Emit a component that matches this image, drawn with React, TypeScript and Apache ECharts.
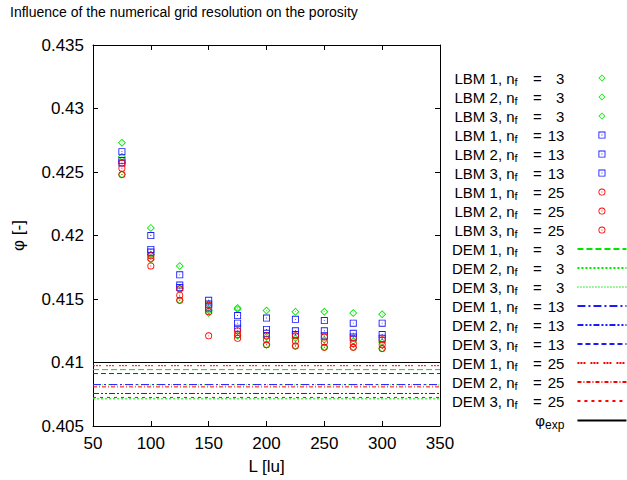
import React, { useEffect, useRef } from 'react';
import * as echarts from 'echarts';

const TITLE = 'Influence of the numerical grid resolution on the porosity';
const X_NAME = 'L [lu]';
const Y_NAME = 'φ [-]';
const X_MIN = 50;
const X_MAX = 350;
const X_STEP = 50;
const Y_MIN = 0.405;
const Y_MAX = 0.435;
const Y_STEP = 0.005;

const L_VALUES = [75, 100, 125, 150, 175, 200, 225, 250, 275, 300];

// LBM results, nf = 3
const LBM1_NF3 = [0.4273, 0.4206, 0.4176, 0.4146, 0.4143, 0.4141, 0.414, 0.414, 0.4139, 0.4138];
const LBM2_NF3 = [0.4262, 0.4185, 0.4158, 0.4141, 0.4142, 0.412, 0.4119, 0.4118, 0.4117, 0.4116];
const LBM3_NF3 = [0.4248, 0.4181, 0.4149, 0.4139, 0.4121, 0.4114, 0.4113, 0.4112, 0.4112, 0.4111];
// LBM results, nf = 13
const LBM1_NF13 = [0.4266, 0.42, 0.4169, 0.4149, 0.4137, 0.4135, 0.4134, 0.4133, 0.4131, 0.4131];
const LBM2_NF13 = [0.4259, 0.4189, 0.4161, 0.4146, 0.4131, 0.4126, 0.4125, 0.4125, 0.4123, 0.4122];
const LBM3_NF13 = [0.4257, 0.4187, 0.4159, 0.4143, 0.4127, 0.4123, 0.4122, 0.4121, 0.412, 0.4119];
// LBM results, nf = 25
const LBM1_NF25 = [0.4257, 0.4184, 0.4158, 0.4145, 0.4125, 0.4121, 0.4121, 0.412, 0.4119, 0.4118];
const LBM2_NF25 = [0.4253, 0.4182, 0.4153, 0.414, 0.4122, 0.4118, 0.4117, 0.4116, 0.4115, 0.4114];
const LBM3_NF25 = [0.4248, 0.4176, 0.4149, 0.4121, 0.4119, 0.4114, 0.4113, 0.4112, 0.4112, 0.4111];

// DEM porosities (runs 1..3)
const DEM_NF3 = [0.40944, 0.40714, 0.40824];
const DEM_NF13 = [0.40826, 0.40756, 0.40913];
const DEM_NF25 = [0.40975, 0.40808, 0.40725];
const PHI_EXP = 0.41;

const NF_VALUES = [3, 13, 25];
const RUNS = [1, 2, 3];
const LBM_BY_NF = [
  [LBM1_NF3, LBM2_NF3, LBM3_NF3],
  [LBM1_NF13, LBM2_NF13, LBM3_NF13],
  [LBM1_NF25, LBM2_NF25, LBM3_NF25],
];
const DEM_BY_NF = [DEM_NF3, DEM_NF13, DEM_NF25];

const COLORS = ['#00e600', '#1a1aff', '#ff0000'];
const SYMBOLS = [
  'path://M8,0L16,8L8,16L0,8Z M8,2.4L2.4,8L8,13.6L13.6,8Z M7.2,7.2H8.8V8.8H7.2Z',
  'path://M0,0H16V16H0Z M2,2V14H14V2Z M7,7H9V9H7Z',
  'path://M8,0A8,8 0 1,1 8,16A8,8 0 1,1 8,0Z M8,2A6,6 0 1,0 8,14A6,6 0 1,0 8,2Z M7,7H9V9H7Z',
];
const SYMBOL_SIZES = [8, 7, 7];
const DEM_DASHES = [
  [[6, 3], [2, 2], [1, 2]],
  [[8, 3, 2, 3], [6, 2, 2, 2, 2, 2], [5, 3]],
  [[2, 1, 2, 1, 2, 5], [4, 2, 1, 2], [3, 4]],
];

const FONT = 'Liberation Sans, Arial, sans-serif';
const NBSP = '\u00a0';

export default function App() {
  const ref = useRef<HTMLDivElement>(null);

  useEffect(() => {
    if (!ref.current) return;
    const chart = echarts.init(ref.current, undefined, { renderer: 'svg' });

    const series: any[] = [];
    const legendData: any[] = [];

    NF_VALUES.forEach((nf, k) => {
      RUNS.forEach((run, r) => {
        const name = `LBM|${run}|${nf}`;
        legendData.push({ name });
        series.push({
          name,
          type: 'scatter',
          symbol: SYMBOLS[k],
          symbolSize: SYMBOL_SIZES[k],
          itemStyle: { color: COLORS[k], opacity: 1 },
          silent: true,
          data: L_VALUES.map((x, i) => [x, LBM_BY_NF[k][r][i]]),
        });
      });
    });

    NF_VALUES.forEach((nf, k) => {
      RUNS.forEach((run, r) => {
        const name = `DEM|${run}|${nf}`;
        legendData.push({ name, itemStyle: { opacity: 0 } });
        series.push({
          name,
          type: 'line',
          symbol: 'none',
          showSymbol: false,
          silent: true,
          lineStyle: {
            color: COLORS[k],
            width: 1,
            type: DEM_DASHES[k][r],
            opacity: k === 0 && r === 2 ? 0.75 : 1,
          },
          itemStyle: { color: COLORS[k] },
          data: [
            [X_MIN, DEM_BY_NF[k][r]],
            [X_MAX, DEM_BY_NF[k][r]],
          ],
        });
      });
    });

    legendData.push({ name: 'exp', itemStyle: { opacity: 0 } });
    series.push({
      name: 'exp',
      type: 'line',
      symbol: 'none',
      showSymbol: false,
      silent: true,
      lineStyle: { color: '#000', width: 1, type: 'solid' },
      itemStyle: { color: '#000' },
      data: [
        [X_MIN, PHI_EXP],
        [X_MAX, PHI_EXP],
      ],
    });

    const axisCommon = {
      type: 'value',
      axisLine: { show: true, onZero: false, lineStyle: { color: '#000', width: 1 } },
      axisTick: { show: true, inside: true, length: 5, lineStyle: { color: '#000' } },
      splitLine: { show: false },
    };

    const tok = { fontFamily: FONT, color: '#000' };

    chart.setOption({
      animation: false,
      textStyle: { fontFamily: FONT, color: '#000' },
      title: {
        text: TITLE,
        left: 5,
        top: 0,
        textStyle: { fontSize: 14, fontWeight: 'normal', color: '#000', fontFamily: FONT },
      },
      grid: { left: 93, right: 187, top: 45, bottom: 52, containLabel: false },
      xAxis: [
        {
          ...axisCommon,
          position: 'bottom',
          min: X_MIN,
          max: X_MAX,
          interval: X_STEP,
          name: X_NAME,
          nameLocation: 'middle',
          nameGap: 32,
          nameTextStyle: { fontSize: 17, color: '#000', fontFamily: FONT },
          axisLabel: { fontSize: 17, color: '#000', margin: 9, fontFamily: FONT },
        },
        {
          ...axisCommon,
          position: 'top',
          min: X_MIN,
          max: X_MAX,
          interval: X_STEP,
          axisLabel: { show: false },
        },
      ],
      yAxis: [
        {
          ...axisCommon,
          position: 'left',
          min: Y_MIN,
          max: Y_MAX,
          interval: Y_STEP,
          name: Y_NAME,
          nameLocation: 'middle',
          nameRotate: 90,
          nameGap: 66,
          nameTextStyle: { fontSize: 17, color: '#000', fontFamily: FONT },
          axisLabel: {
            fontSize: 17,
            color: '#000',
            margin: 9,
            fontFamily: FONT,
            formatter: (v: number) => String(parseFloat(v.toFixed(3))),
          },
        },
        {
          ...axisCommon,
          position: 'right',
          min: Y_MIN,
          max: Y_MAX,
          interval: Y_STEP,
          axisLabel: { show: false },
        },
      ],
      legend: {
        orient: 'vertical',
        left: 452,
        top: 68.5,
        padding: 0,
        align: 'right',
        itemWidth: 49,
        itemHeight: 7,
        itemGap: 0,
        selectedMode: false,
        data: legendData,
        formatter: (name: string) => {
          if (name === 'exp') return '{e|φ}{x|exp}';
          const [m, r, n] = name.split('|');
          const num = n.length < 2 ? NBSP + NBSP + n : n;
          const aStyle = m === 'LBM' ? 'al' : 'ad';
          return `{${aStyle}|${m} ${r}, n}{s|f}{b|=}{c|${num}}`;
        },
        textStyle: {
          color: '#000',
          fontFamily: FONT,
          fontSize: 15,
          rich: {
            al: { ...tok, fontSize: 15, lineHeight: 17, padding: [0, 0, 0, 2.5] },
            ad: { ...tok, fontSize: 15, lineHeight: 17 },
            s: { ...tok, fontSize: 11, lineHeight: 8, padding: [8, 15.4, 0, 0] },
            b: { ...tok, fontSize: 15, lineHeight: 17 },
            c: { ...tok, fontSize: 15, lineHeight: 17, padding: [0, 8, 0, 6] },
            e: { ...tok, fontSize: 15, lineHeight: 17, width: 93.1, align: 'right' },
            x: { ...tok, fontSize: 12, lineHeight: 8, align: 'right', padding: [8, 8, 0, 0] },
          },
        },
      },
      series,
    });

    return () => chart.dispose();
  }, []);

  return (
    <div
      ref={ref}
      style={{ position: 'fixed', left: 0, top: 0, width: 627, height: 480, background: '#fff' }}
    />
  );
}
